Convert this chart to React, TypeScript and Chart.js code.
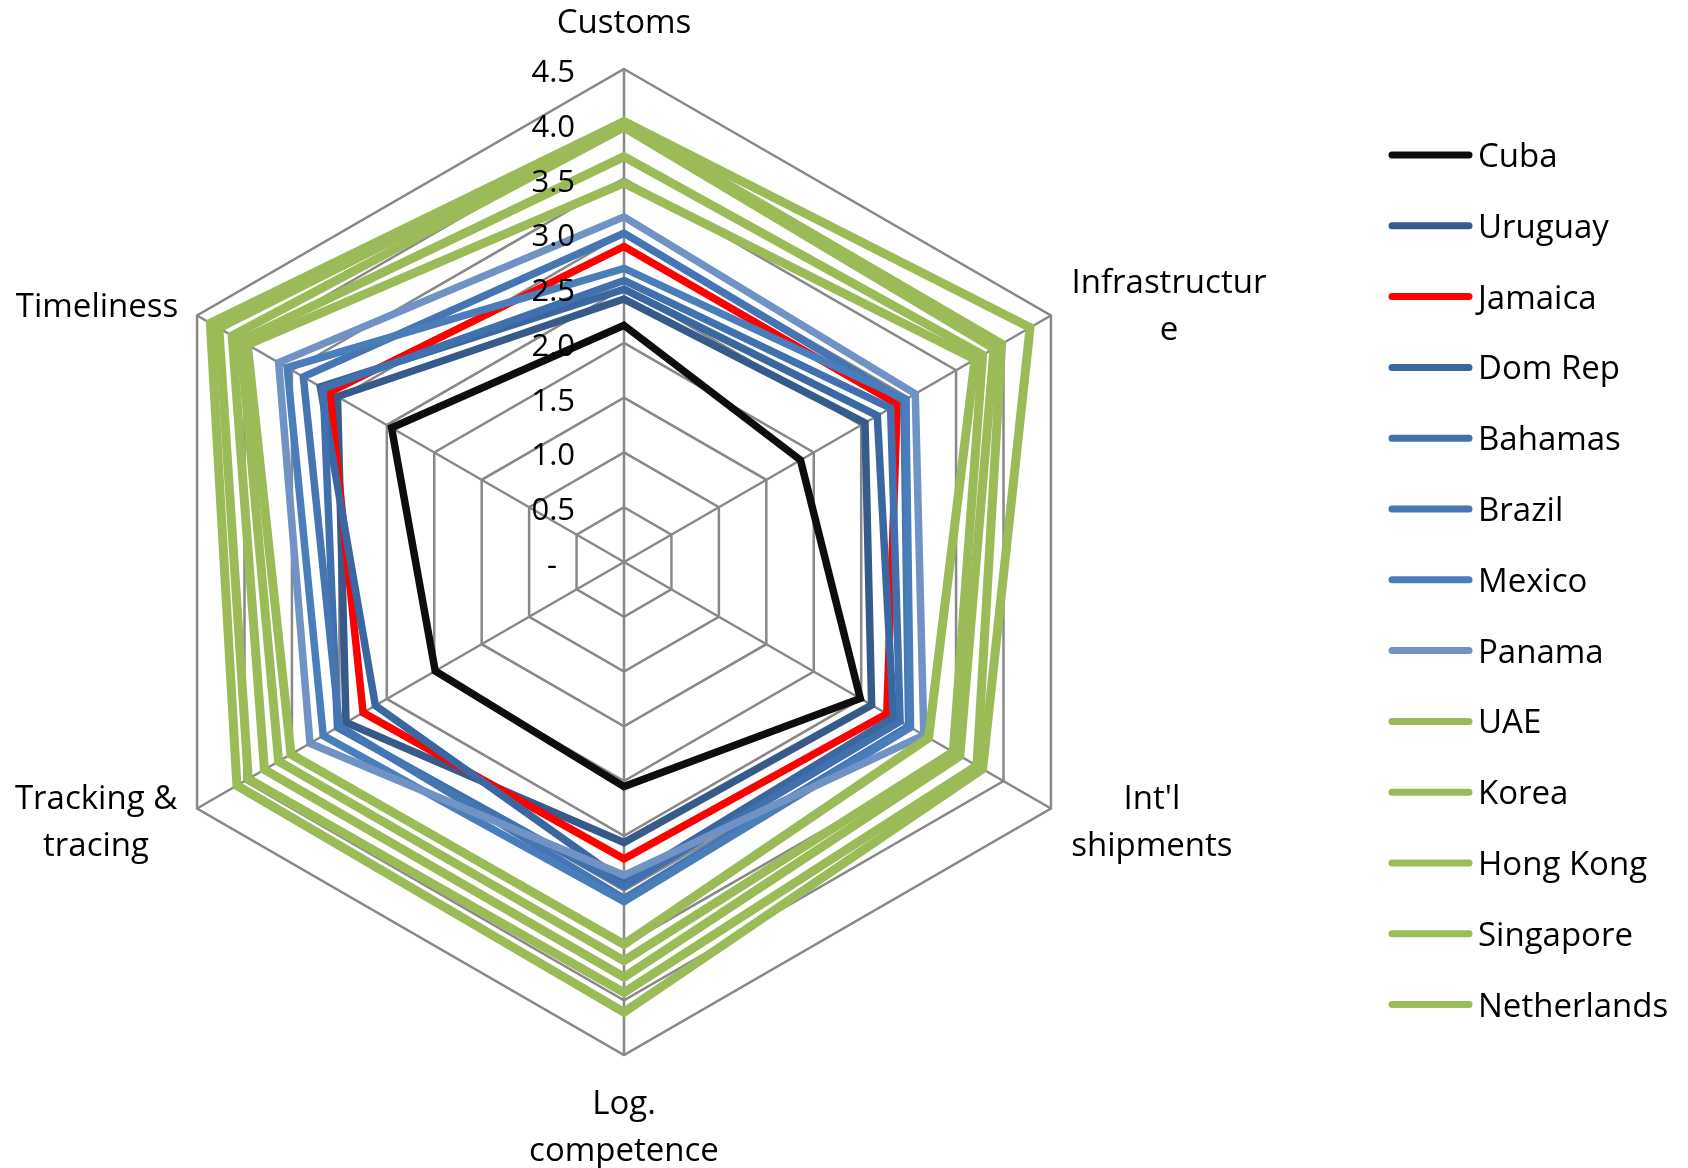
import React, { useEffect, useRef } from "react";
import { Chart, registerables } from "chart.js";

Chart.register(...registerables);

// ---- Data ----
const categories = [
  "Customs",
  "Infrastructure",
  "Int'l shipments",
  "Log. competence",
  "Tracking & tracing",
  "Timeliness",
];
const categoryLabelLines = [
  ["Customs"],
  ["Infrastructur", "e"],
  ["Int'l", "shipments"],
  ["Log.", "competence"],
  ["Tracking &", "tracing"],
  ["Timeliness"],
];

const seriesNames = [
  "Cuba",
  "Uruguay",
  "Jamaica",
  "Dom Rep",
  "Bahamas",
  "Brazil",
  "Mexico",
  "Panama",
  "UAE",
  "Korea",
  "Hong Kong",
  "Singapore",
  "Netherlands",
];

// [Customs, Infrastructure, Int'l shipments, Log. competence, Tracking & tracing, Timeliness]
const cuba = [2.16, 1.86, 2.49, 2.05, 1.99, 2.45];
const uruguay = [2.4, 2.54, 2.61, 2.56, 2.93, 3.02];
const jamaica = [2.88, 2.88, 2.77, 2.71, 2.75, 3.1];
const domRep = [2.49, 2.67, 2.84, 2.92, 2.62, 3.2];
const bahamas = [2.57, 2.81, 2.91, 2.96, 3.02, 3.17];
const brazil = [3.0, 2.95, 3.0, 3.07, 3.0, 3.38];
const mexico = [2.68, 2.97, 3.02, 3.1, 3.17, 3.55];
const panama = [3.15, 3.07, 3.16, 2.86, 3.31, 3.64];
const uae = [3.46, 3.7, 3.21, 3.49, 3.51, 3.97];
const korea = [3.7, 3.78, 3.47, 3.64, 3.64, 4.04];
const hongKong = [3.97, 3.9, 3.54, 3.79, 3.79, 4.13];
const singapore = [4.0, 3.98, 3.72, 3.93, 3.96, 4.27];
const netherlands = [4.02, 4.28, 3.78, 4.11, 4.08, 4.36];

const seriesValues = [
  cuba,
  uruguay,
  jamaica,
  domRep,
  bahamas,
  brazil,
  mexico,
  panama,
  uae,
  korea,
  hongKong,
  singapore,
  netherlands,
];

const seriesColors = [
  "#0D0D0D",
  "#365A89",
  "#FF0000",
  "#3B67A0",
  "#4070AD",
  "#4575B3",
  "#4A7EBB",
  "#7092C5",
  "#9BBB59",
  "#9BBB59",
  "#9BBB59",
  "#9BBB59",
  "#9BBB59",
];

const tickValues = [0, 0.5, 1.0, 1.5, 2.0, 2.5, 3.0, 3.5, 4.0, 4.5];
const tickLabels = ["-", "0.5", "1.0", "1.5", "2.0", "2.5", "3.0", "3.5", "4.0", "4.5"];

const FONT = '"Open Sans", "DejaVu Sans", sans-serif';

const overlayPlugin = {
  id: "overlay",
  afterDraw(chart: any) {
    const scale = chart.scales.r;
    const ctx = chart.ctx as CanvasRenderingContext2D;
    ctx.save();
    ctx.fillStyle = "#000000";

    // Tick labels along the Customs axis
    ctx.font = `31px ${FONT}`;
    ctx.textAlign = "right";
    ctx.textBaseline = "alphabetic";
    tickValues.forEach((v, i) => {
      const p = scale.getPointPositionForValue(0, v);
      const xr = v === 0 ? p.x - 67 : p.x - 49;
      ctx.fillText(tickLabels[i], xr, p.y + 13);
    });

    // Category labels
    ctx.font = `33px ${FONT}`;
    ctx.textAlign = "center";
    const lineH = 47;
    const labelAnchors = [
      { dx: 0, dy: -36 },
      { dx: 118, dy: -23 },
      { dx: 101, dy: 0 },
      { dx: 0, dy: 59 },
      { dx: -101, dy: 0 },
      { dx: -100, dy: 1 },
    ];
    categoryLabelLines.forEach((lines, i) => {
      const v = scale.getPointPositionForValue(i, scale.max);
      const a = labelAnchors[i];
      lines.forEach((t, j) => {
        ctx.fillText(t, v.x + a.dx, v.y + a.dy + j * lineH);
      });
    });

    // Legend
    ctx.textAlign = "left";
    const lx0 = 1392;
    const lx1 = 1469;
    const ly0 = 155;
    const lstep = 70.8;
    chart.data.datasets.forEach((ds: any, i: number) => {
      const y = ly0 + i * lstep;
      ctx.strokeStyle = ds.borderColor;
      ctx.lineWidth = 7;
      ctx.lineCap = "round";
      ctx.beginPath();
      ctx.moveTo(lx0, y);
      ctx.lineTo(lx1, y);
      ctx.stroke();
      ctx.fillStyle = "#000000";
      ctx.fillText(ds.label, 1478, y + 12);
    });
    ctx.restore();
  },
};

export default function App() {
  const canvasRef = useRef<HTMLCanvasElement | null>(null);

  useEffect(() => {
    const canvas = canvasRef.current;
    if (!canvas) return;
    const n = seriesNames.length;
    const chart = new Chart(canvas, {
      type: "radar",
      data: {
        labels: categories,
        datasets: seriesNames.map((name, i) => ({
          label: name,
          data: seriesValues[i],
          borderColor: seriesColors[i],
          backgroundColor: seriesColors[i],
          borderWidth: i >= 8 ? 9 : 7.5,
          fill: false,
          pointRadius: 0,
          pointHoverRadius: 0,
          tension: 0,
          borderJoinStyle: "miter",
          order: n - 1 - i,
        })),
      },
      options: {
        responsive: false,
        animation: false,
        devicePixelRatio: 1,
        layout: { padding: { left: 131, right: 571, top: 69, bottom: 113 } },
        plugins: {
          legend: { display: false },
          tooltip: { enabled: false },
        },
        scales: {
          r: {
            min: 0,
            max: 4.5,
            ticks: { stepSize: 0.5, display: false },
            grid: { color: "#888888", lineWidth: 2.5 },
            angleLines: { color: "#888888", lineWidth: 2.5 },
            pointLabels: { display: false },
          },
        },
      },
      plugins: [overlayPlugin],
    } as any);
    return () => chart.destroy();
  }, []);

  return (
    <div style={{ position: "fixed", left: 0, top: 0, width: 1688, height: 1168, background: "#ffffff" }}>
      <canvas ref={canvasRef} width={1688} height={1168} style={{ width: 1688, height: 1168, display: "block" }} />
    </div>
  );
}
